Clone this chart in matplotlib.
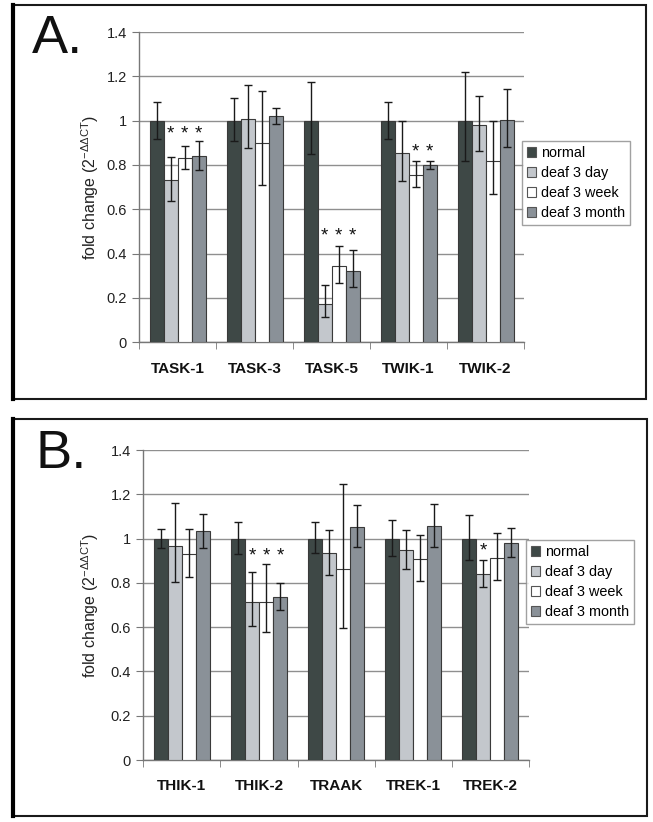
import matplotlib
matplotlib.use("Agg")
import matplotlib.pyplot as plt
from matplotlib.patches import Patch, Rectangle
from matplotlib.lines import Line2D
import numpy as np

plt.rcParams['font.family'] = ['Liberation Sans', 'DejaVu Sans']
plt.rcParams['mathtext.fontset'] = 'custom'
plt.rcParams['mathtext.rm'] = 'Liberation Sans'
plt.rcParams['mathtext.it'] = 'Liberation Sans'

# ---------------- data ----------------
series_names = ["normal", "deaf 3 day", "deaf 3 week", "deaf 3 month"]
series_colors = ["#3e4846", "#c3c7cc", "#ffffff", "#8a9198"]

cats_A = ["TASK-1", "TASK-3", "TASK-5", "TWIK-1", "TWIK-2"]
vals_A_normal = [1.0, 1.0, 1.0, 1.0, 1.0]
vals_A_day = [0.732, 1.008, 0.171, 0.854, 0.981]
vals_A_week = [0.830, 0.899, 0.343, 0.756, 0.817]
vals_A_month = [0.841, 1.023, 0.323, 0.802, 1.003]
errhi_A = [[0.084, 0.102, 0.176, 0.086, 0.220],
           [0.106, 0.153, 0.088, 0.143, 0.132],
           [0.056, 0.235, 0.093, 0.061, 0.183],
           [0.069, 0.036, 0.094, 0.018, 0.139]]
errlo_A = [[0.081, 0.090, 0.150, 0.083, 0.180],
           [0.093, 0.133, 0.058, 0.126, 0.118],
           [0.049, 0.189, 0.077, 0.054, 0.149],
           [0.063, 0.039, 0.072, 0.020, 0.123]]
star_A_cat = [0, 0, 0, 2, 2, 2, 3, 3]
star_A_ser = [1, 2, 3, 1, 2, 3, 2, 3]
star_A_y = [0.94, 0.94, 0.94, 0.48, 0.48, 0.48, 0.86, 0.86]

cats_B = ["THIK-1", "THIK-2", "TRAAK", "TREK-1", "TREK-2"]
vals_B_normal = [1.0, 1.0, 1.0, 1.0, 1.0]
vals_B_day = [0.967, 0.715, 0.934, 0.948, 0.839]
vals_B_week = [0.931, 0.713, 0.862, 0.907, 0.913]
vals_B_month = [1.035, 0.735, 1.051, 1.056, 0.979]
errhi_B = [[0.044, 0.077, 0.074, 0.083, 0.107],
           [0.196, 0.133, 0.105, 0.091, 0.066],
           [0.112, 0.173, 0.385, 0.110, 0.114],
           [0.077, 0.066, 0.100, 0.099, 0.069]]
errlo_B = [[0.043, 0.068, 0.066, 0.078, 0.096],
           [0.164, 0.108, 0.099, 0.086, 0.059],
           [0.103, 0.136, 0.266, 0.098, 0.101],
           [0.076, 0.057, 0.087, 0.095, 0.060]]
star_B_cat = [1, 1, 1, 4]
star_B_ser = [1, 2, 3, 1]
star_B_y = [0.92, 0.92, 0.92, 0.945]

yticks = [0, 0.2, 0.4, 0.6, 0.8, 1.0, 1.2, 1.4]
ytick_labels = ["0", "0.2", "0.4", "0.6", "0.8", "1", "1.2", "1.4"]

W, H = 653, 822
fig = plt.figure(figsize=(W / 100, H / 100), dpi=100)


def fx(px):
    return px / W


def fy(py):
    return 1 - py / H


def panel(rect_px, cats, vals, errlo, errhi, sc, ss, sy, letter, letter_pos,
          frame_px, legend_px):
    l, t, r, b = rect_px
    ax = fig.add_axes([fx(l), fy(b), fx(r - l), (b - t) / H])
    n = len(cats)
    x = np.arange(n)
    bw = 0.182
    offs = (np.arange(4) - 1.5) * bw
    for i in range(4):
        ax.bar(x + offs[i], vals[i], bw, color=series_colors[i],
               edgecolor="#3a3a3a", linewidth=0.8, zorder=3,
               label=series_names[i])
    for i in range(4):
        ax.errorbar(x + offs[i], vals[i], yerr=[errlo[i], errhi[i]], fmt="none",
                    ecolor="#1a1a1a", elinewidth=1.0, capsize=3.2,
                    capthick=1.0, zorder=4)
    for c, s, yv in zip(sc, ss, sy):
        ax.text(c + offs[s], yv, "*", ha="center", va="center",
                fontsize=13.5, color="#111111", zorder=5)
    ax.set_xlim(-0.5, n - 0.5)
    ax.set_ylim(0, 1.4)
    ax.set_yticks(yticks)
    ax.set_yticklabels(ytick_labels, fontsize=10.5, color="#222222")
    ax.yaxis.grid(True, color="#8f8f8f", linewidth=1.0, zorder=0)
    ax.set_axisbelow(True)
    ax.set_xticks(x)
    ax.set_xticklabels(cats, fontsize=11, fontweight="bold", color="#111111")
    ax.tick_params(axis="x", which="major", length=0, pad=14)
    ax.set_xticks(np.arange(n + 1) - 0.5, minor=True)
    ax.tick_params(axis="x", which="minor", length=5, color="#777777",
                   direction="out")
    ax.tick_params(axis="y", length=5, color="#777777", pad=4)
    for sp in ["top", "right"]:
        ax.spines[sp].set_visible(False)
    for sp in ["left", "bottom"]:
        ax.spines[sp].set_color("#777777")
        ax.spines[sp].set_linewidth(1.0)
    ax.set_ylabel(r"fold change (2$^{-\Delta\Delta CT}$)", fontsize=11.5,
                  color="#222222")
    ax.yaxis.set_label_coords((101 - l) / (r - l), 0.5)

    handles = [Patch(facecolor=series_colors[i], edgecolor="#555555",
                     linewidth=0.8, label=series_names[i]) for i in range(4)]
    lx, ly = legend_px
    leg = fig.legend(handles=handles, loc="upper left",
                     bbox_to_anchor=(fx(lx), fy(ly)),
                     bbox_transform=fig.transFigure, borderaxespad=0,
                     fontsize=10.4, frameon=True, fancybox=False,
                     edgecolor="#8a8a8a", handlelength=0.65, handleheight=0.65,
                     handletextpad=0.3, labelspacing=0.42, borderpad=0.35)
    leg.get_frame().set_linewidth(1.0)

    fig.text(fx(letter_pos[0]), fy(letter_pos[1]), letter, fontsize=39,
             ha="left", va="center", color="#111111")

    x0, y0, x1, y1 = frame_px
    fig.add_artist(Rectangle((fx(x0), fy(y1)), fx(x1 - x0), (y1 - y0) / H,
                             transform=fig.transFigure, fill=False,
                             edgecolor="#1a1a1a", linewidth=1.5))
    fig.add_artist(Line2D([fx(x0), fx(x0)], [fy(y0), fy(y1)],
                          transform=fig.transFigure, color="#000000",
                          linewidth=3.0))
    return ax


vals_A = [vals_A_normal, vals_A_day, vals_A_week, vals_A_month]
vals_B = [vals_B_normal, vals_B_day, vals_B_week, vals_B_month]

panel((139.3, 32.0, 524.0, 342.3), cats_A, vals_A, errlo_A, errhi_A,
      star_A_cat, star_A_ser, star_A_y, "A.", (32, 39),
      (13, 5, 646, 399), (522, 141))
panel((143.3, 450.2, 528.8, 760.0), cats_B, vals_B, errlo_B, errhi_B,
      star_B_cat, star_B_ser, star_B_y, "B.", (35, 454),
      (13, 419, 647, 816), (526, 540))

fig.savefig("out.png", dpi=100)
